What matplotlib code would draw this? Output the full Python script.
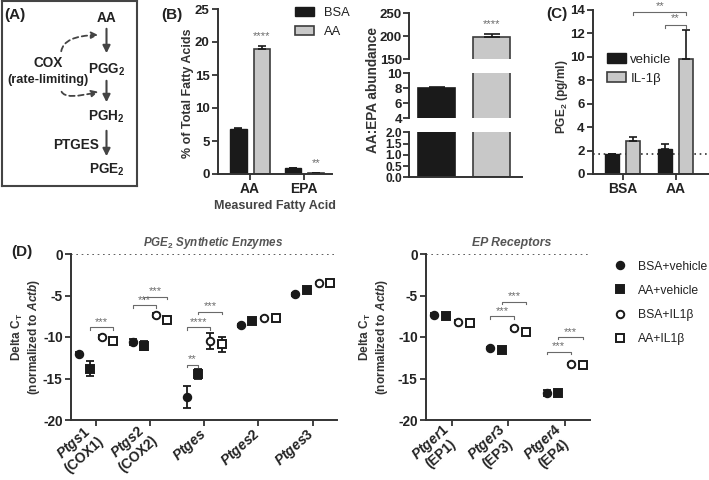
import matplotlib
matplotlib.use('Agg')
import matplotlib.pyplot as plt
import numpy as np
from matplotlib.patches import FancyArrowPatch

plt.rcParams.update({
    'font.family': ['Liberation Sans', 'DejaVu Sans'],
    'font.weight': 'bold',
    'axes.unicode_minus': False,
    'mathtext.fontset': 'custom',
    'mathtext.rm': 'Liberation Sans:bold',
    'mathtext.it': 'Liberation Sans:italic:bold',
    'mathtext.bf': 'Liberation Sans:bold',
    'text.color': '#222222',
    'axes.labelcolor': '#222222',
    'xtick.color': '#333333',
    'ytick.color': '#333333',
    'xtick.labelcolor': '#222222',
    'ytick.labelcolor': '#222222',
})

# ---------------- data ----------------
# Panel B1: % of total fatty acids
fa_cats = ['AA', 'EPA']
fa_bsa = [6.85, 0.9]
fa_bsa_err = [0.08, 0.04]
fa_aa = [18.9, 0.15]
fa_aa_err = [0.55, 0.04]
fa_stars = ['****', '**']

# Panel B2: AA:EPA abundance
ratio_vals = [8.0, 199.0]
ratio_err = [0.12, 6.0]

# Panel C: PGE2
pge_cats = ['BSA', 'AA']
pge_vehicle = [1.7, 2.15]
pge_vehicle_err = [0.0, 0.45]
pge_il1b = [2.8, 9.85]
pge_il1b_err = [0.4, 2.45]
pge_lod = 1.7

# Panel D
groups = ['BSA+vehicle', 'AA+vehicle', 'BSA+IL1β', 'AA+IL1β']
syn_genes = ['Ptgs1', 'Ptgs2', 'Ptges', 'Ptges2', 'Ptges3']
syn_alias = ['COX1', 'COX2', '', '', '']
syn_vals = {
    'BSA+vehicle': [-12.0, -10.6, -17.25, -8.6, -4.85],
    'AA+vehicle':  [-13.8, -11.05, -14.5, -8.1, -4.35],
    'BSA+IL1β':    [-10.0, -7.35, -10.5, -7.7, -3.45],
    'AA+IL1β':     [-10.45, -7.9, -10.9, -7.7, -3.45],
}
syn_errs = {
    'BSA+vehicle': [0.2, 0.4, 1.35, 0.15, 0.15],
    'AA+vehicle':  [0.85, 0.55, 0.6, 0.35, 0.25],
    'BSA+IL1β':    [0.2, 0.25, 0.95, 0.15, 0.1],
    'AA+IL1β':     [0.2, 0.25, 0.9, 0.15, 0.15],
}
syn_brackets = [  # (gene index, group a, group b, y, label)
    (0, 1, 3, -8.8, '***'),
    (1, 0, 2, -6.15, '***'),
    (1, 1, 3, -5.15, '***'),
    (2, 0, 1, -13.35, '**'),
    (2, 0, 2, -8.85, '****'),
    (2, 1, 3, -6.95, '***'),
]

ep_genes = ['Ptger1', 'Ptger3', 'Ptger4']
ep_alias = ['EP1', 'EP3', 'EP4']
ep_vals = {
    'BSA+vehicle': [-7.3, -11.3, -16.75],
    'AA+vehicle':  [-7.45, -11.55, -16.75],
    'BSA+IL1β':    [-8.15, -8.95, -13.25],
    'AA+IL1β':     [-8.35, -9.4, -13.35],
}
ep_errs = {
    'BSA+vehicle': [0.15, 0.15, 0.35],
    'AA+vehicle':  [0.25, 0.3, 0.3],
    'BSA+IL1β':    [0.15, 0.15, 0.15],
    'AA+IL1β':     [0.2, 0.15, 0.2],
}
ep_brackets = [
    (1, 0, 2, -7.5, '***'),
    (1, 1, 3, -5.75, '***'),
    (2, 0, 2, -11.75, '***'),
    (2, 1, 3, -10.0, '***'),
]

# ---------------- figure ----------------
W, H = 709, 480
fig = plt.figure(figsize=(W / 100, H / 100), dpi=100)

def ax_px(l, t, r, b):
    return fig.add_axes([l / W, 1 - b / H, (r - l) / W, (b - t) / H])

def fig_text(x, y, s, **kw):
    return fig.text(x / W, 1 - y / H, s, **kw)

SPC = '#333333'

def style(ax, fs=9.5):
    for s in ['top', 'right']:
        ax.spines[s].set_visible(False)
    for s in ['left', 'bottom']:
        ax.spines[s].set_linewidth(1.4)
        ax.spines[s].set_color(SPC)
    ax.tick_params(labelsize=fs, width=1.3, length=4, pad=2)

BLACK = '#1a1a1a'
GREY = '#c8c8c8'
GREY_EDGE = '#3c3c3c'
STAR = '#6a6a6a'

# ---------------- Panel A ----------------
axA = ax_px(2, 1, 137, 186)
axA.set_xlim(2, 137)
axA.set_ylim(186, 1)
axA.set_xticks([])
axA.set_yticks([])
for s in axA.spines.values():
    s.set_linewidth(1.5)
    s.set_color('#444444')
ac = '#444444'
tkw = dict(ha='center', va='center', fontsize=9.8, fontweight='bold', color='#222222')
axA.text(15, 15, '(A)', fontsize=11, fontweight='bold', ha='center', va='center')
axA.text(106.5, 18, 'AA', **tkw)
axA.text(106.5, 70, r'PGG$_\mathrm{2}$', **tkw)
axA.text(106.5, 117, r'PGH$_\mathrm{2}$', **tkw)
axA.text(106.5, 170, r'PGE$_\mathrm{2}$', **tkw)
axA.text(48, 63, 'COX', **tkw)
axA.text(47.5, 80, '(rate-limiting)', ha='center', va='center', fontsize=9.2, fontweight='bold')
axA.text(76, 145, 'PTGES', **tkw)
for y0, y1 in [(26, 56), (78, 105), (128, 159)]:
    axA.add_patch(FancyArrowPatch((106.5, y0), (106.5, y1), arrowstyle='-|>',
                                  mutation_scale=11, color=ac, lw=1.5))
axA.add_patch(FancyArrowPatch((61, 54), (101, 35), arrowstyle='-|>', mutation_scale=10,
                              connectionstyle='angle3,angleA=90,angleB=0',
                              color=ac, lw=1.3, linestyle=(0, (3, 2))))
axA.add_patch(FancyArrowPatch((61, 89), (101, 91), arrowstyle='-|>', mutation_scale=10,
                              connectionstyle='angle3,angleA=90,angleB=15',
                              color=ac, lw=1.3, linestyle=(0, (3, 2))))

# ---------------- Panel B1 ----------------
axB = ax_px(218, 9, 332, 174)
style(axB)
xb = np.arange(len(fa_cats))
off, bw = 0.215, 0.3
b1 = axB.bar(xb - off, fa_bsa, bw, color=BLACK, edgecolor=BLACK, lw=1.0, label='BSA')
b2 = axB.bar(xb + off, fa_aa, bw, color=GREY, edgecolor=GREY_EDGE, lw=1.2, label='AA')
axB.errorbar(xb - off, fa_bsa, yerr=[np.zeros(2), fa_bsa_err], fmt='none', ecolor=BLACK,
             capsize=3, elinewidth=1.2, capthick=1.2)
axB.errorbar(xb + off, fa_aa, yerr=[np.zeros(2), fa_aa_err], fmt='none', ecolor=BLACK,
             capsize=3, elinewidth=1.2, capthick=1.2)
for i, s in enumerate(fa_stars):
    axB.text(xb[i] + off, fa_aa[i] + fa_aa_err[i] + 1.5, s, ha='center', va='center',
             fontsize=8, color=STAR, fontweight='normal')
axB.set_ylim(0, 25)
axB.set_yticks([0, 5, 10, 15, 20, 25])
axB.set_xlim(-0.59, 1.51)
axB.set_xticks(xb)
axB.set_xticklabels(fa_cats, fontsize=10)
axB.set_xlabel('Measured Fatty Acid', fontsize=9, fontweight='bold', labelpad=3,
               color='#444444')
axB.legend(handles=[b1, b2], loc='upper left', bbox_to_anchor=(0.675, 1.01), frameon=False,
           handlelength=1.45, handleheight=0.7, handletextpad=0.8,
           labelspacing=0.5, borderpad=0, borderaxespad=0,
           prop={'weight': 'normal', 'size': 9.3})
fig_text(188, 93, '% of Total Fatty Acids', rotation=90, ha='center', va='center',
         fontsize=9, fontweight='bold', color='#333333')
fig_text(172, 15, '(B)', fontsize=11, fontweight='bold', ha='center', va='center')

# ---------------- Panel B2 (broken axis) ----------------
segs = [((13.3, 59.3), (150, 250), [150, 200, 250], '%d'),
        ((73.3, 118.3), (4, 10), [4, 6, 8, 10], '%d'),
        ((132.3, 177.3), (0, 2), [0, 0.5, 1.0, 1.5, 2.0], '%.1f')]
xr = np.arange(2)
for k, ((t, b), ylim, yt, fmt) in enumerate(segs):
    ax = ax_px(409, t, 522, b)
    style(ax, fs=9.5 if k < 2 else 8.6)
    if k < 2:
        ax.spines['bottom'].set_visible(False)
    ax.bar(xr, ratio_vals, 0.68, color=[BLACK, GREY], edgecolor=[BLACK, GREY_EDGE], lw=1.2)
    ax.errorbar(xr, ratio_vals, yerr=[np.zeros(2), ratio_err], fmt='none', ecolor=BLACK,
                capsize=6, elinewidth=1.2, capthick=1.2)
    ax.set_ylim(*ylim)
    ax.set_yticks(yt)
    ax.set_yticklabels([fmt % v for v in yt])
    ax.tick_params(pad=1)
    ax.set_xlim(-0.5, 1.55)
    ax.set_xticks([])
    if k == 0:
        ax.text(1, 226, '****', ha='center', va='center', fontsize=8, color=STAR,
                fontweight='normal')
fig_text(373, 90, 'AA:EPA abundance', rotation=90, ha='center', va='center',
         fontsize=9.8, fontweight='bold', color='#333333')

# ---------------- Panel C ----------------
axC = ax_px(593, 10, 709, 174)
style(axC)
xc = np.arange(len(pge_cats))
offc, bwc = 0.2, 0.27
c1 = axC.bar(xc - offc, pge_vehicle, bwc, color=BLACK, edgecolor=BLACK, lw=1.0, label='vehicle')
c2 = axC.bar(xc + offc, pge_il1b, bwc, color=GREY, edgecolor=GREY_EDGE, lw=1.2, label='IL-1β')
axC.errorbar(xc - offc, pge_vehicle, yerr=[np.zeros(2), pge_vehicle_err], fmt='none',
             ecolor=BLACK, capsize=3, elinewidth=1.2, capthick=1.2)
axC.errorbar(xc + offc, pge_il1b, yerr=[np.zeros(2), pge_il1b_err], fmt='none',
             ecolor=BLACK, capsize=3, elinewidth=1.2, capthick=1.2)
axC.axhline(pge_lod, color='#333333', ls=(0, (1, 2.2)), lw=1.2, zorder=0)
axC.set_ylim(0, 14)
axC.set_yticks(range(0, 15, 2))
axC.set_xlim(-0.56, 1.63)
axC.set_xticks(xc)
axC.set_xticklabels(pge_cats, fontsize=10)
for xa, xb_, yy in [(0 + offc, 1 + offc, 13.85), (1 - offc, 1 + offc, 12.75)]:
    axC.plot([xa, xa, xb_, xb_], [yy - 0.25, yy, yy, yy - 0.25], color=STAR, lw=0.8,
             clip_on=False)
    axC.text((xa + xb_) / 2, yy + 0.1, '**', ha='center', va='bottom', fontsize=8,
             color=STAR, fontweight='normal', clip_on=False)
axC.legend(handles=[c1, c2], loc='upper left', bbox_to_anchor=(0.118, 0.735), frameon=False,
           handlelength=1.5, handleheight=0.7, handletextpad=0.3, labelspacing=0.5,
           borderpad=0, borderaxespad=0, prop={'weight': 'normal', 'size': 9.5})
fig_text(562, 97, r'PGE$_\mathrm{2}$ (pg/ml)', rotation=90, ha='center', va='center',
         fontsize=8.6, fontweight='bold', color='#333333')
fig_text(557, 14, '(C)', fontsize=11, fontweight='bold', ha='center', va='center')

# ---------------- Panel D ----------------
offsets = [-0.32, -0.11, 0.11, 0.32]
mstyle = {
    'BSA+vehicle': dict(marker='o', mfc=BLACK, mec=BLACK),
    'AA+vehicle': dict(marker='s', mfc=BLACK, mec=BLACK),
    'BSA+IL1β': dict(marker='o', mfc='white', mec=BLACK),
    'AA+IL1β': dict(marker='s', mfc='white', mec=BLACK),
}

def panel_d(ax, genes, alias, vals, errs, brackets, title_x, title, title_fs):
    style(ax, fs=9.8)
    x = np.arange(len(genes))
    handles = []
    for g, o in zip(groups, offsets):
        ax.errorbar(x + o, vals[g], yerr=errs[g], fmt='none', ecolor=BLACK, elinewidth=1.3,
                    capsize=3.2, capthick=1.3, zorder=2)
        h, = ax.plot(x + o, vals[g], ls='none', ms=5.4, mew=1.4, zorder=3, label=g,
                     **mstyle[g])
        handles.append(h)
    for gi, a, b, yy, lab in brackets:
        xa, xb2 = gi + offsets[a], gi + offsets[b]
        ax.plot([xa, xa, xb2, xb2], [yy - 0.3, yy, yy, yy - 0.3], color=STAR, lw=0.8)
        ax.text((xa + xb2) / 2, yy + 0.05, lab, ha='center', va='bottom', fontsize=8,
                color=STAR, fontweight='normal')
    ax.axhline(0, color='#444444', ls=(0, (1, 2.2)), lw=1.2)
    ax.set_ylim(-20, 0)
    ax.set_yticks([0, -5, -10, -15, -20])
    ax.set_xlim(-0.46, len(genes) - 1 + 0.45)
    ax.set_xticks(x)
    labels = [r'$\mathit{%s}$' % g + ('\n(%s)' % a if a else '') for g, a in zip(genes, alias)]
    ax.set_xticklabels(labels, rotation=42, ha='right', va='center', rotation_mode='anchor',
                       multialignment='center', fontsize=10, linespacing=1.0)
    ax.tick_params(axis='x', pad=5)
    fig_text(title_x, 243, title, ha='center', va='center', fontsize=title_fs,
             fontstyle='italic', fontweight='bold', color='#555555')
    return handles

axD1 = ax_px(71, 254, 337, 420)
panel_d(axD1, syn_genes, syn_alias, syn_vals, syn_errs, syn_brackets, 213,
        r'PGE$_\mathit{2}$ Synthetic Enzymes', 8.4)
axD2 = ax_px(426, 254, 590, 420)
hs = panel_d(axD2, ep_genes, ep_alias, ep_vals, ep_errs, ep_brackets, 512, 'EP Receptors', 8.8)
ylab = 'Delta C$_\\mathrm{T}$\n(normalized to $\\mathit{Actb}$)'
fig_text(26, 337, ylab, rotation=90, ha='center', va='center', fontsize=8.6,
         fontweight='bold', multialignment='center', linespacing=1.1, color='#333333')
fig_text(374, 337, ylab, rotation=90, ha='center', va='center', fontsize=8.6,
         fontweight='bold', multialignment='center', linespacing=1.1, color='#333333')
fig_text(22, 252, '(D)', fontsize=11, fontweight='bold', ha='center', va='center')
axD2.legend(handles=hs, loc='upper left', bbox_to_anchor=(1.147, 0.96), frameon=False,
            handlelength=1.0, handletextpad=0.95, labelspacing=1.0, borderpad=0,
            borderaxespad=0, prop={'weight': 'normal', 'size': 8.7})

fig.savefig('out.png', dpi=100)
